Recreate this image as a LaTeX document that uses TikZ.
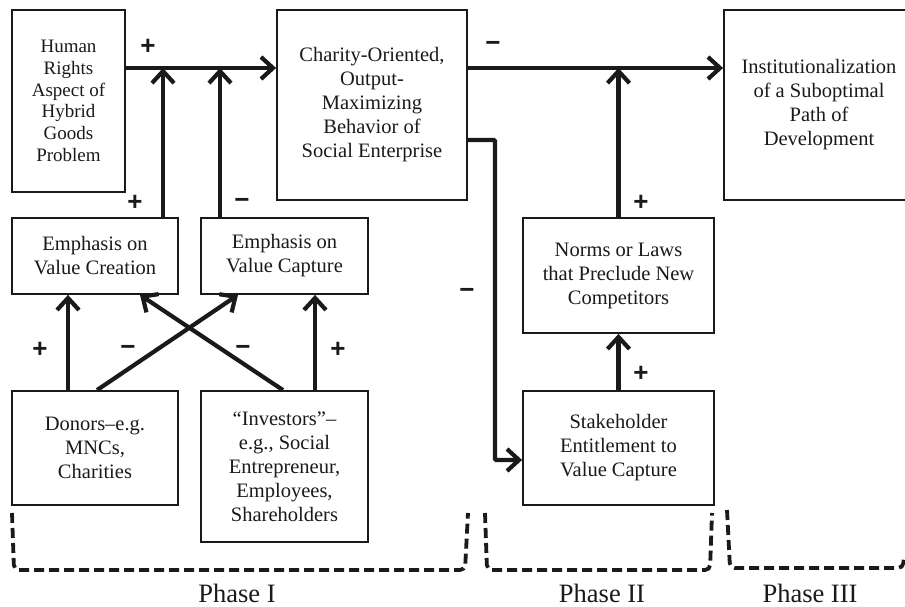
\documentclass[tikz,border=0pt]{standalone}
\usepackage{fontspec}
\setmainfont{Liberation Serif}
\newfontfamily\signfont{Liberation Sans}
\usetikzlibrary{arrows.meta}
\definecolor{ink}{HTML}{1A1A1A}
\begin{document}
\begin{tikzpicture}[x=1pt,y=-1pt,
  box/.style={draw=ink,line width=1.8pt,align=center,text=ink,inner sep=0pt,
    font={\fontsize{20.5}{24}\selectfont}},
  arr/.style={draw=ink,line width=4.2pt,
    -{Straight Barb[length=12pt,width=22pt,line width=4.2pt]}},
  sign/.style={text=ink,font={\signfont\bfseries\fontsize{26}{26}\selectfont},inner sep=0pt},
  bracket/.style={draw=ink,line width=3.8pt,dash pattern=on 10pt off 5pt,rounded corners=5pt},
  phase/.style={text=ink,font={\fontsize{26.5}{30}\selectfont}}]
\useasboundingbox (0,0) rectangle (905,607);

% boxes
\node[box,minimum width=113pt,minimum height=182pt,font={\fontsize{19}{21.7}\selectfont}]
  (human) at (68.5,101) {Human\\Rights\\Aspect of\\Hybrid\\Goods\\Problem};
\node[box,minimum width=190pt,minimum height=190pt]
  (charity) at (372,105) {Charity-Oriented,\\Output-\\Maximizing\\Behavior of\\Social Enterprise};
\node[box,minimum width=190pt,minimum height=190pt]
  (inst) at (819,105) {Institutionalization\\of a Suboptimal\\Path of\\Development};
\node[box,minimum width=166pt,minimum height=76pt]
  (creation) at (95,256) {Emphasis on\\Value Creation};
\node[box,minimum width=167pt,minimum height=76pt]
  (capture) at (284.5,256) {Emphasis on\\Value Capture};
\node[box,minimum width=166pt,minimum height=114pt]
  (donors) at (95,448) {Donors–e.g.\\MNCs,\\Charities};
\node[box,minimum width=167pt,minimum height=151pt]
  (investors) at (284.5,466.5) {“Investors”–\\e.g., Social\\Entrepreneur,\\Employees,\\Shareholders};
\node[box,minimum width=191pt,minimum height=115pt]
  (norms) at (618.5,275.5) {Norms or Laws\\that Preclude New\\Competitors};
\node[box,minimum width=191pt,minimum height=114pt]
  (stake) at (618.5,448) {Stakeholder\\Entitlement to\\Value Capture};

% junctions on the main lines
\coordinate (j1) at (163,68);
\coordinate (j2) at (220,68);
\coordinate (j3) at (618.5,68);
\coordinate (elbowA) at (495,140);
\coordinate (elbowB) at (495,460);

% connectors
\draw[arr] (human.east |- j1) -- (charity.west |- j1);
\draw[arr] (creation.north -| j1) -- (j1);
\draw[arr] (capture.north -| j2) -- (j2);
\draw[arr] (charity.east |- j3) -- (inst.west |- j3);
\draw[arr] (norms.north) -- (j3);
\draw[arr] (stake.north) -- (norms.south);
\draw[arr,rounded corners=1pt] (charity.east |- elbowA) -- (elbowA) -- (elbowB) -- (stake.west |- elbowB);
\draw[arr] (donors.north -| 68,0) -- (creation.south -| 68,0);
\draw[arr] (donors.north -| 97,0) -- (capture.south -| 238,0);
\draw[arr] (investors.north -| 283,0) -- (creation.south -| 140,0);
\draw[arr] (investors.north -| 315,0) -- (capture.south -| 315,0);

% signs
\node[sign] (s1) at (148,47) {+};
\node[sign] (s2) at (135,203) {+};
\node[sign] (s3) at (242,203) {−};
\node[sign] (s4) at (493,46) {−};
\node[sign] (s5) at (641,203) {+};
\node[sign] (s6) at (467,293) {−};
\node[sign] (s7) at (641,374) {+};
\node[sign] (s8) at (40,350) {+};
\node[sign] (s9) at (128,350) {−};
\node[sign] (s10) at (243,350) {−};
\node[sign] (s11) at (338,350) {+};

% phase brackets
\draw[bracket] (12,513) -- (14,570) -- (465,570) -- (468,513);
\draw[bracket] (485,513) -- (487,570) -- (710,570) -- (712,513);
\draw[bracket] (727,510) -- (730,568) -- (903,568) -- (904,555);

\node[phase] (p1) at (237,593) {Phase I};
\node[phase] (p2) at (602,593) {Phase II};
\node[phase] (p3) at (810,593) {Phase III};
\end{tikzpicture}
\end{document}
